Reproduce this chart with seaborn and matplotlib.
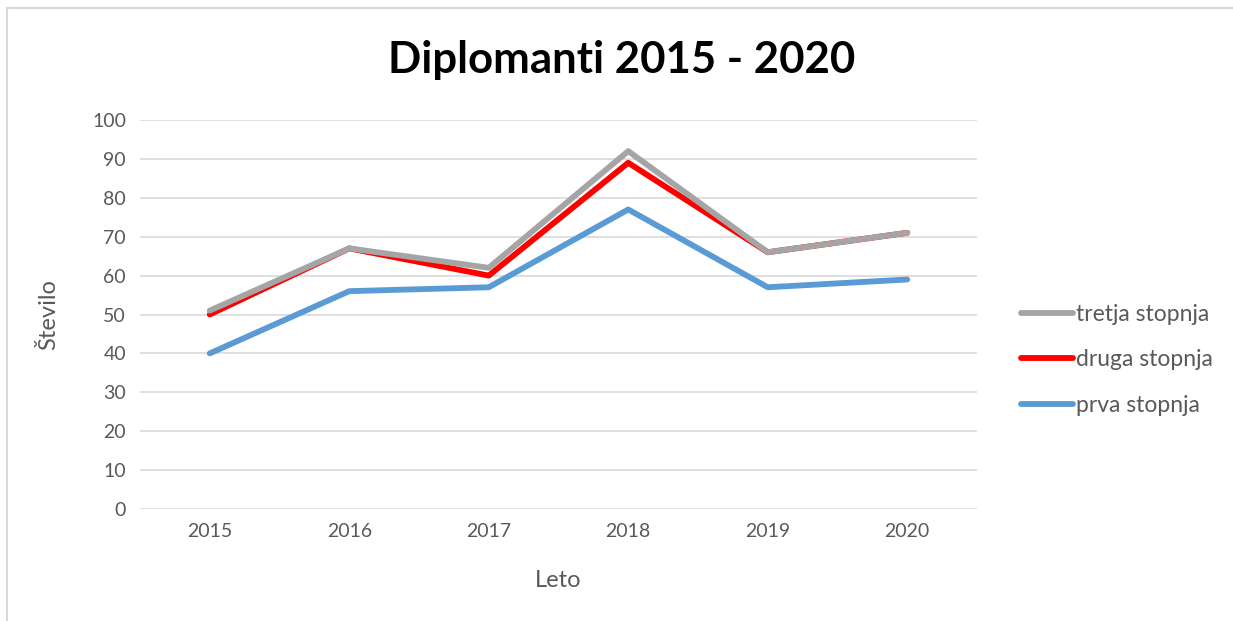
import matplotlib
matplotlib.use('Agg')
import matplotlib.pyplot as plt
from matplotlib.patches import Rectangle
import pandas as pd
import seaborn as sns

years = ['2015', '2016', '2017', '2018', '2019', '2020']
prva = [40, 56, 57, 77, 57, 59]
druga = [50, 67, 60, 89, 66, 71]
tretja = [51, 67, 62, 92, 66, 71]
series = ['prva stopnja', 'druga stopnja', 'tretja stopnja']
colors = {'prva stopnja': '#5B9BD5', 'druga stopnja': '#FF0000', 'tretja stopnja': '#A5A5A5'}

df = pd.DataFrame({
    'Leto': years * 3,
    'Število': prva + druga + tretja,
    'stopnja': [s for s in series for _ in years],
})

sns.set_theme(style='white')
plt.rcParams['font.family'] = ['Lato', 'DejaVu Sans']

fig = plt.figure(figsize=(12.33, 6.21), dpi=100)
ax = fig.add_axes([140 / 1233, 1 - 509 / 621, 837 / 1233, 389 / 621])

sns.lineplot(data=df, x='Leto', y='Število', hue='stopnja', hue_order=series,
             palette=colors, linewidth=4.2, sort=False, ax=ax, legend=False)

ax.set_xlim(-0.5, 5.5)
ax.set_ylim(0, 100)
ax.set_yticks(range(0, 101, 10))
ax.grid(axis='y', color='#D9D9D9', linewidth=1.2)
ax.set_axisbelow(True)
for sp in ax.spines.values():
    sp.set_visible(False)
ax.tick_params(axis='both', length=0, labelsize=14, labelcolor='#595959', pad=10)
ax.set_xlabel('Leto', fontsize=17, color='#595959', labelpad=22)
ax.set_ylabel('Število', fontsize=17, color='#595959', labelpad=24)

fig.text(622 / 1233, 1 - 60 / 621, 'Diplomanti 2015 - 2020', ha='center', va='center',
         fontsize=31.5, fontweight='bold', color='black')

handles = [plt.Line2D([], [], color=colors[s], linewidth=4.2) for s in series][::-1]
fig.legend(handles, series[::-1], loc='center left', bbox_to_anchor=(1000 / 1233, 1 - 360 / 621),
           frameon=False, fontsize=16.5, labelcolor='#595959', handlelength=2.3,
           handletextpad=0.1, labelspacing=1.05)

fig.add_artist(Rectangle((7 / 1233, -0.1), 1.2, 1.1 - 8 / 621, transform=fig.transFigure,
                         fill=False, edgecolor='#D9D9D9', linewidth=1.5))

fig.savefig('out.png', dpi=100)
